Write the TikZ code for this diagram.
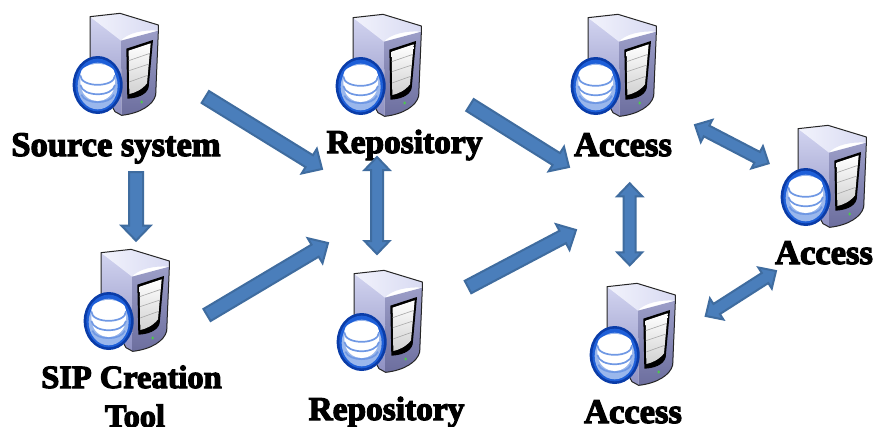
\documentclass[tikz,border=0pt]{standalone}
\usepackage{fontspec}
\setmainfont{Liberation Serif}
\newfontfamily\lblfont[FakeBold=3.6]{Liberation Serif Bold}
\usetikzlibrary{calc}
\definecolor{arrfill}{HTML}{4A7EBB}
\definecolor{arrline}{HTML}{3F6C9F}
\definecolor{sideA}{HTML}{D2D4F0}
\definecolor{sideB}{HTML}{8E90C2}
\definecolor{frontA}{HTML}{9C9EC8}
\definecolor{frontB}{HTML}{6C6E9E}
\definecolor{topA}{HTML}{F2F3FC}
\definecolor{topB}{HTML}{D8DAF2}
\definecolor{discA}{HTML}{1E5FD8}
\definecolor{discB}{HTML}{0A3CA8}
\definecolor{ringc}{HTML}{6F98E4}
\tikzset{
  lbl/.style={font=\lblfont\fontsize{34.5}{40}\selectfont,anchor=base,inner sep=0pt,text=black,align=center},
  lblrepo/.style={lbl,font=\lblfont\fontsize{33.4}{40}\selectfont},
  lblsip/.style={lbl,font=\lblfont\fontsize{32.4}{40}\selectfont},
  fatarrow/.style={draw=arrline,fill=arrfill,line width=2pt,line join=miter},
  serverpic/.pic={
    \begin{scope}[scale=1/3]
      % tower body
      \shade[top color=sideA,bottom color=sideB] (120,50) -- (120,200) -- (195,335) -- (215,346) -- (215,120) -- cycle;
      \shade[top color=frontA,bottom color=frontB] (213,122) -- (325,92) -- (318,285) .. controls (310,315) and (270,340) .. (215,346) -- cycle;
      \shade[left color=topA,right color=topB] (120,50) -- (210,40) -- (325,75) -- (325,92) .. controls (280,88) and (230,100) .. (213,122) -- cycle;
      \draw[line width=1pt,black!85,line join=round] (120,50) -- (210,40) -- (325,75) -- (325,95) -- (317,285) .. controls (310,315) and (270,340) .. (215,346) -- (195,335) -- (120,200) -- cycle;
      % screen
      \fill[black] (229,146) -- (309,120) -- (296,262) .. controls (290,285) and (260,295) .. (232,296) -- cycle;
      \shade[top color=white,bottom color=black!18] (236,152) -- (302,130) -- (291,250) .. controls (275,270) and (255,278) .. (238,282) -- cycle;
      \draw[black!35,line width=.6pt] (236,182) -- (300,160) (237,212) -- (297,192) (237,246) -- (293,226);
      \fill[green!70!black!70!white] (275,306) ellipse (4 and 5);
      % disc
      \fill[discB] (143,255) ellipse (75 and 87);
      \fill[discA] (143,255) ellipse (67 and 79);
      \fill[ringc!70!white] (143,258) ellipse (60 and 70);
      \fill[white] (91,245) .. controls (91,322) and (195,322) .. (195,245) -- (195,225) -- (91,225) -- cycle;
      \fill[white] (143,222) ellipse (52 and 30);
      \draw[line width=1.7pt,ringc] (91,226) .. controls (91,264) and (195,264) .. (195,226);
      \draw[line width=1.7pt,ringc] (91,255) .. controls (98,292) and (188,292) .. (195,255);
      \draw[line width=1.7pt,ringc] (94,284) .. controls (106,314) and (180,314) .. (192,284);
    \end{scope}
  }
}
% single-headed block arrow: from, to, half shaft, half head, head length
\newcommand{\onearrow}[5]{%
  \coordinate (nk) at ($(#2)!#5!(#1)$);
  \draw[fatarrow]
    ($(#1)!#3!90:(#2)$) -- ($(nk)!#3!90:(#2)$) -- ($(nk)!#4!90:(#2)$) -- (#2)
    -- ($(nk)!#4!-90:(#2)$) -- ($(nk)!#3!-90:(#2)$) -- ($(#1)!#3!-90:(#2)$) -- cycle;
}
% double-headed block arrow
\newcommand{\twoarrow}[5]{%
  \coordinate (nka) at ($(#2)!#5!(#1)$);
  \coordinate (nkb) at ($(#1)!#5!(#2)$);
  \draw[fatarrow]
    (#1) -- ($(nkb)!#4!-90:(#2)$) -- ($(nkb)!#3!-90:(#2)$) -- ($(nka)!#3!-90:(#2)$) -- ($(nka)!#4!-90:(#2)$) -- (#2)
    -- ($(nka)!#4!90:(#2)$) -- ($(nka)!#3!90:(#2)$) -- ($(nkb)!#3!90:(#2)$) -- ($(nkb)!#4!90:(#2)$) -- cycle;
}
\begin{document}
\begin{tikzpicture}[x=1pt,y=-1pt]
\useasboundingbox (0,0) rectangle (875,426);
\clip (0,0) rectangle (875,426);
\fill[white] (0,0) rectangle (875,426);
\pic (srvsource) at (50,0) {serverpic};
\pic (srvrepoa) at (313,1) {serverpic};
\pic (srvaccessa) at (548,1) {serverpic};
\pic (srvaccessr) at (758,112) {serverpic};
\pic (srvsip) at (61,236) {serverpic};
\pic (srvrepob) at (314,257) {serverpic};
\pic (srvaccessb) at (567,270) {serverpic};

\node[lbl] (source) at (116,156) {Source system};
\node[lblrepo] (repoa) at (404.5,153) {Repository};
\node[lbl] (accessa) at (623,156) {Access};
\node[lbl] (accessr) at (824,264) {Access};
\node[lblsip] (sipa) at (131.5,388) {SIP Creation};
\node[lblsip] (sipb) at (135,427) {Tool};
\node[lblrepo] (repob) at (386.5,420) {Repository};
\node[lbl] (accessb) at (633,423) {Access};

\coordinate (a1s) at (205.3,97);   \coordinate (a1e) at (322,169);
\coordinate (a2s) at (136,172);    \coordinate (a2e) at (136,240.7);
\coordinate (a3s) at (207,315);    \coordinate (a3e) at (328,243);
\coordinate (a5s) at (470,105);    \coordinate (a5e) at (569,167);
\coordinate (a6s) at (468,287);    \coordinate (a6e) at (576,230);
\coordinate (b1s) at (377,157);    \coordinate (b1e) at (377,254);
\coordinate (b2s) at (629.7,183.3);\coordinate (b2e) at (629.7,265.3);
\coordinate (b3s) at (695,125);    \coordinate (b3e) at (768.7,163.3);
\coordinate (b4s) at (705.7,316);  \coordinate (b4e) at (776,271);

\onearrow{a1s}{a1e}{7pt}{14.5pt}{15pt}
\onearrow{a2s}{a2e}{7pt}{14.5pt}{15pt}
\onearrow{a3s}{a3e}{7pt}{14.5pt}{15pt}
\onearrow{a5s}{a5e}{7pt}{14.5pt}{15pt}
\onearrow{a6s}{a6e}{7pt}{14.5pt}{15pt}
\twoarrow{b1s}{b1e}{6pt}{12.5pt}{13pt}
\twoarrow{b2s}{b2e}{6pt}{12.5pt}{13pt}
\twoarrow{b3s}{b3e}{6pt}{12.5pt}{13pt}
\twoarrow{b4s}{b4e}{6pt}{12.5pt}{13pt}
\end{tikzpicture}
\end{document}
